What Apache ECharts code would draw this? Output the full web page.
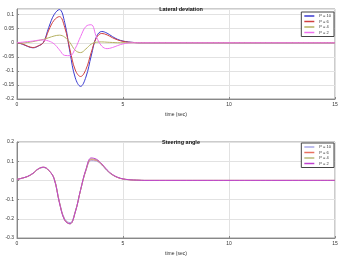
<!DOCTYPE html>
<html><head><meta charset="utf-8">
<script src="https://cdn.jsdelivr.net/npm/echarts@6/dist/echarts.min.js"></script>
<style>html,body{margin:0;padding:0;background:#fff}#c{width:339px;height:257px}</style>
</head><body><div id="c"></div>
<script>
const time = [0,0.25,0.5,0.75,1,1.25,1.5,1.75,2,2.25,2.5,2.75,3,3.25,3.5,3.75,4,4.25,4.5,4.75,5,5.25,5.5,5.75,6,7,8,9,10,11,12,13,14,15];
const seriesNames = ['P = 10','P = 6','P = 4','P = 2'];
const xTicks = [0,5,10,15];
// Lateral deviation (cm)
const latP10 = [0,-0.005,-0.013,-0.018,-0.012,0.002,0.055,0.1,0.118,0.072,-0.035,-0.125,-0.155,-0.122,-0.047,0.022,0.04,0.034,0.022,0.012,0.006,0.003,0.001,0,0,0,0,0,0,0,0,0,0,0];
const latP6  = [0,-0.004,-0.012,-0.017,-0.011,0.001,0.045,0.08,0.093,0.055,-0.025,-0.097,-0.12,-0.095,-0.035,0.018,0.033,0.028,0.018,0.01,0.005,0.002,0.001,0,0,0,0,0,0,0,0,0,0,0];
const latP4  = [0,-0.001,0.001,0.004,0.008,0.012,0.018,0.024,0.027,0.02,0,-0.027,-0.035,-0.022,-0.005,0.002,0.003,0.002,0.001,0,0,0,0,0,0,0,0,0,0,0,0,0,0,0];
const latP2  = [0,0.002,0.004,0.006,0.009,0.01,0.006,-0.004,-0.025,-0.045,-0.046,-0.02,0.022,0.058,0.064,0.02,-0.012,-0.021,-0.017,-0.01,-0.004,-0.001,0,0,0,0,0,0,0,0,0,0,0,0];
// Steering angle (rad)
const steerP10 = [0.005,0.012,0.02,0.035,0.058,0.067,0.05,0.012,-0.11,-0.2,-0.22,-0.16,-0.05,0.05,0.103,0.1,0.08,0.05,0.028,0.015,0.007,0.004,0.002,0.001,0,0,0,0,0,0,0,0,0,0];
const steerP6  = [0.005,0.012,0.02,0.036,0.059,0.068,0.051,0.01,-0.113,-0.205,-0.225,-0.163,-0.05,0.052,0.108,0.104,0.082,0.052,0.029,0.015,0.007,0.004,0.002,0.001,0,0,0,0,0,0,0,0,0,0];
const steerP4  = [0.005,0.012,0.021,0.037,0.06,0.069,0.052,0.009,-0.115,-0.207,-0.227,-0.165,-0.05,0.054,0.112,0.107,0.084,0.053,0.03,0.016,0.008,0.004,0.002,0.001,0,0,0,0,0,0,0,0,0,0];
const steerP2  = [0.005,0.012,0.021,0.037,0.06,0.069,0.053,0.008,-0.117,-0.208,-0.226,-0.165,-0.048,0.057,0.117,0.11,0.086,0.055,0.031,0.016,0.008,0.004,0.002,0.001,0,0,0,0,0,0,0,0,0,0];

const topColors = ['#3a3ad0','#d04040','#b4b060','#f070f0'];
const botColors = ['#a8a8e8','#e87060','#b8b878','#c040d0'];
const pair = a => time.map((t,i)=>[t,a[i]]);
const fmt = v => String(+v.toFixed(2));
const txt = {fontFamily:'Liberation Sans', fontSize:5, color:'#333'};

const chart = echarts.init(document.getElementById('c'));
function xAxis(gi){
  return {type:'value', gridIndex:gi, min:0, max:15, interval:5,
    name:'time (sec)', nameLocation:'middle', nameGap:13, nameTextStyle:txt,
    axisLine:{onZero:false, lineStyle:{color:'#888'}}, axisTick:{inside:true,length:2,lineStyle:{color:'#888'}},
    axisLabel:{...txt, margin:3, formatter:fmt},
    splitLine:{lineStyle:{color:'#e2e2e2',width:1}}};
}
function yAxis(gi,min,max,interval,name){
  return {type:'value', gridIndex:gi, min, max, interval,
    name, nameLocation:'middle', nameGap:11, nameTextStyle:txt,
    axisLine:{onZero:false, lineStyle:{color:'#888'}}, axisTick:{inside:true,length:2,lineStyle:{color:'#888'}},
    axisLabel:{...txt, margin:3, formatter:fmt, showMaxLabel: max===0.2},
    splitLine:{lineStyle:{color:'#e2e2e2',width:1}}};
}
const latData = [latP10,latP6,latP4,latP2];
const steerData = [steerP10,steerP6,steerP4,steerP2];
const series = [];
seriesNames.forEach((n,i)=>series.push({name:n, type:'line', xAxisIndex:0, yAxisIndex:0, data:pair(latData[i]), smooth:0.4, showSymbol:false, lineStyle:{width:1,color:topColors[i]}, itemStyle:{color:topColors[i]}}));
seriesNames.forEach((n,i)=>series.push({name:n+' ', type:'line', xAxisIndex:1, yAxisIndex:1, data:pair(steerData[i]), smooth:0.4, showSymbol:false, lineStyle:{width:1,color:botColors[i]}, itemStyle:{color:botColors[i]}}));

const legendBase = {orient:'vertical', right:5, itemWidth:10, itemHeight:1.5, itemGap:1.5, padding:[2,3,2,3],
  backgroundColor:'#fff', borderColor:'#444', borderWidth:1, textStyle:{...txt, fontSize:4}, icon:'rect'};
chart.setOption({
  animation:false,
  title:[
    {text:'Lateral deviation', left:176, top:1, textAlign:'center', textStyle:{fontFamily:'Liberation Sans',fontSize:5.5,fontWeight:'bold',color:'#111'}},
    {text:'Steering angle', left:176, top:134, textAlign:'center', textStyle:{fontFamily:'Liberation Sans',fontSize:5.5,fontWeight:'bold',color:'#111'}}
  ],
  grid:[
    {left:17, right:4, top:9, bottom:158, show:true, borderColor:'#999', borderWidth:1, containLabel:false, outerBoundsMode:'none'},
    {left:17, right:4, top:142, bottom:19, show:true, borderColor:'#999', borderWidth:1, containLabel:false, outerBoundsMode:'none'}
  ],
  xAxis:[xAxis(0), xAxis(1)],
  yAxis:[yAxis(0,-0.2,0.12,0.05,'lateral deviation (cm)'), yAxis(1,-0.3,0.2,0.1,'steering angle (rad)')],
  legend:[
    {...legendBase, top:12, data:seriesNames},
    {...legendBase, top:143, data:seriesNames.map(n=>n+' '), formatter:n=>n.trim()}
  ],
  series
});
</script></body></html>
